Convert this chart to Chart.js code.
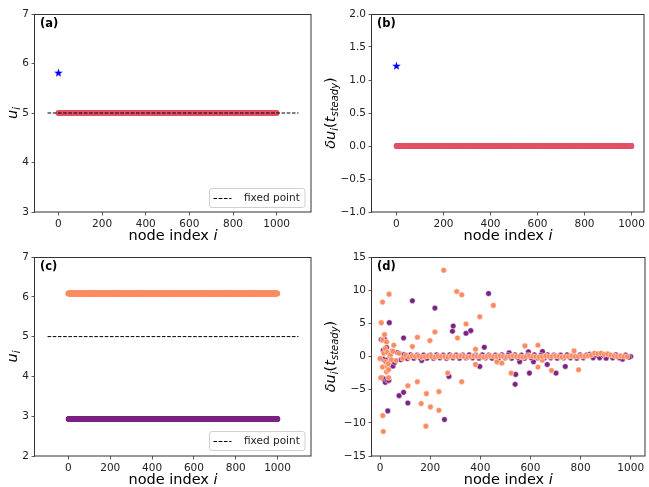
<!DOCTYPE html>
<html>
<head>
<meta charset="utf-8">
<script src="https://cdn.jsdelivr.net/npm/chart.js@4.4.0/dist/chart.umd.min.js"></script>
<style>
  html, body { margin: 0; padding: 0; background: #fff; }
  #fig { position: relative; width: 649px; height: 487px; overflow: hidden; }
  #fig canvas { position: absolute; left: 0; top: 0; }
</style>
</head>
<body>
<div id="fig">
  <canvas id="panelA" width="649" height="487"></canvas>
  <canvas id="panelB" width="649" height="487"></canvas>
  <canvas id="panelC" width="649" height="487"></canvas>
  <canvas id="panelD" width="649" height="487"></canvas>
</div>
<script>
const W = 649, H = 487;
const FONT = 'DejaVu Sans';

// tick positions
const xTicks = [0, 200, 400, 600, 800, 1000];
const uTicksA = [3, 4, 5, 6, 7];
const deltaTicksB = [-1, -0.5, 0, 0.5, 1, 1.5, 2];
const uTicksC = [2, 3, 4, 5, 6, 7];
const deltaTicksD = [-15, -10, -5, 0, 5, 10, 15];

// node indices of the ring
const nodeIndex = Array.from({ length: 1000 }, (_, i) => i);

// (a)/(b): one perturbed node, everything else on the fixed point
const fixedPoint = 5;
const perturbedA = [{ x: 0, y: 5.82 }];
const perturbedB = [{ x: 0, y: 1.22 }];
const restLevelA = 5.0;
const restDeltaB = 0.0;

// (c): two-level steady state
const upperLevelC = 6.08;
const lowerLevelC = 2.93;

// extent of the dashed fixed-point line
const guideSpanA = [-50, 1100];
const guideSpanC = [-100, 1100];

// (d): deviations at steady state, [node, value]
const devUpperD = [
  [0, -0.3], [3, -3.2], [5, 5.1], [10, 8.2], [10, -1.6], [10, 2.5], [11, -8.9], [13, -11.3],
  [15, 0.5], [18, 3.3], [20, 1.2], [22, -0.8], [26, 2.2], [26, -2.3], [28, -1.5], [30, 0.6],
  [33, -1.1], [34, -3.2], [34, -2.0], [36, 9.4], [39, 0], [42, 0.3], [45, -0.5], [48, 0.85],
  [55, 1.7], [111, -4.4], [129, 1.5], [149, 2.9], [149, -3.8], [164, -7.1], [183, -10.5],
  [185, -5.6], [199, 2.4], [201, -7.6], [219, 3.7], [235, -5.3], [235, -8.1], [254, 13.0],
  [270, -2.5], [306, 9.8], [309, 2.8], [326, 9.3], [326, -3.8], [343, 4.9], [381, 1.1],
  [381, -1.2], [398, 6.0], [452, 7.7], [466, -0.8], [486, -1.0], [523, -2.5], [578, 1.6],
  [630, 1.7], [630, -1.6], [647, -0.55], [684, -2.1], [774, 0.85], [792, -2.0]
];
const devLowerD = [
  [5, 2.55], [8, -3.2], [13, 0.95], [13, -0.4], [16, -3.4], [18, 2.6], [21, -3.9], [23, -0.55],
  [26, 1.35], [29, -3.6], [31, -8.2], [35, -3.6], [37, 5.1], [42, -1.45], [52, -1.45],
  [76, -5.9], [94, 2.8], [94, -5.4], [111, -7.0], [129, 8.4], [166, -0.6], [219, 7.3],
  [257, -9.5], [275, -3.0], [289, 3.8], [292, 4.6], [343, 3.5], [362, 3.9], [398, -1.5],
  [416, 1.4], [433, 9.5], [470, -0.8], [515, 0.55], [539, -4.2], [541, -2.7], [557, -0.8],
  [592, 0.7], [596, -2.5], [612, -0.8], [648, 0.75], [667, -1.2], [702, -2.5], [739, -1.5],
  [967, -0.4], [1000, 0]
];
const bandUpperD = [
  [52, 0.8], [64, -0.6], [76, 0.5], [90, -0.3], [103, 0.2], [116, -0.1], [128, 0.1], [141, 0],
  [154, 0.1], [167, -0.1], [180, 0], [193, 0.1], [206, 0], [219, -0.1], [232, 0.1], [245, 0],
  [258, 0], [271, -0.1], [284, 0.1], [297, 0], [310, 0], [323, 0.1], [336, 0], [349, -0.1],
  [362, 0], [375, 0.1], [388, 0], [401, 0], [414, -0.1], [427, 0], [440, 0.1], [453, 0],
  [466, 0], [479, 0.1], [492, 0], [505, -0.1], [518, 0], [531, 0.1], [544, 0], [557, 0],
  [570, -0.1], [583, 0], [596, 0.1], [609, 0], [622, 0], [635, -0.1], [648, 0], [661, 0.1],
  [674, 0], [687, 0], [700, 0.1], [713, 0], [726, -0.1], [739, 0], [752, 0], [765, 0.1],
  [778, 0], [791, 0], [804, 0.1], [817, 0], [830, 0.1], [843, 0.2], [856, 0.5], [869, 0.4],
  [882, 0.5], [895, 0.3], [908, 0.4], [921, 0.2], [934, 0.1], [947, 0], [960, 0.1], [973, 0],
  [986, 0]
];
const bandLowerD = [
  [58, -0.9], [70, 0.6], [83, -0.5], [96, 0.3], [109, -0.3], [122, 0.25], [135, -0.25], [148, 0.2],
  [161, -0.25], [174, 0.2], [187, -0.25], [200, 0.2], [213, -0.25], [226, 0.25], [239, -0.2], [252, 0.2],
  [265, -0.25], [278, 0.25], [291, -0.2], [304, 0.2], [317, -0.25], [330, 0.2], [343, -0.2], [356, 0.25],
  [369, -0.2], [382, 0.2], [395, -0.25], [408, 0.25], [421, -0.2], [434, 0.2], [447, -0.25], [460, 0.2],
  [473, -0.2], [486, 0.25], [499, -0.2], [512, 0.2], [525, -0.25], [538, 0.25], [551, -0.2], [564, 0.2],
  [577, -0.25], [590, 0.2], [603, -0.2], [616, 0.25], [629, -0.2], [642, 0.2], [655, -0.25], [668, 0.25],
  [681, -0.2], [694, 0.2], [707, -0.25], [720, 0.2], [733, -0.2], [746, 0.25], [759, -0.2], [772, 0.2],
  [785, -0.25], [798, 0.25], [811, -0.2], [824, 0.2], [837, 0.35], [850, -0.2], [863, 0.2], [876, -0.2],
  [889, 0.2], [902, -0.25], [915, 0.2], [928, -0.2], [941, 0.25], [954, -0.2], [980, 0.2], [993, -0.1]
];

const RED = '#e35166';
const ORANGE = '#fc8b62';
const PURPLE = '#7b2382';

const toPts = arr => arr.map(([x, y]) => ({ x, y }));
const minus = s => String(s).replace('-', '\u2212');

function starImage(size, color) {
  const c = document.createElement('canvas');
  c.width = c.height = size;
  const g = c.getContext('2d');
  const r1 = size / 2, r0 = r1 * 0.4;
  g.beginPath();
  for (let k = 0; k < 10; k++) {
    const r = k % 2 ? r0 : r1;
    const a = -Math.PI / 2 + k * Math.PI / 5;
    g.lineTo(size / 2 + r * Math.cos(a), size / 2 + r * Math.sin(a) + 0.6);
  }
  g.closePath();
  g.fillStyle = color;
  g.fill();
  return c;
}
const star = starImage(9, '#0000ff');

// sparse scatter with white marker edges
function scatterSet(points, color) {
  return {
    data: points,
    backgroundColor: color,
    borderColor: 'rgba(255,255,255,0.85)',
    borderWidth: 0.5,
    pointRadius: 2.8
  };
}
// dense rows of nodes: edges would wash the colour out
function rowSet(points, color) {
  return {
    data: points,
    backgroundColor: color,
    borderWidth: 0,
    pointRadius: 3
  };
}
function guideSet(span) {
  return {
    type: 'line',
    data: [{ x: span[0], y: fixedPoint }, { x: span[1], y: fixedPoint }],
    borderColor: '#000',
    borderWidth: 1,
    borderDash: [3.6, 1.6],
    pointRadius: 0,
    showLine: true
  };
}

// text pieces: n = upright, i = italic, sub = subscript
const xTitle = [{ t: 'node index ', s: 'n' }, { t: 'i', s: 'i' }];
const uTitle = [{ t: 'u', s: 'i' }, { t: 'i', s: 'i', sub: true }];
const deltaTitle = [
  { t: '\u03b4u', s: 'i' }, { t: 'i', s: 'i', sub: true }, { t: '(', s: 'n' },
  { t: 't', s: 'i' }, { t: 'steady', s: 'i', sub: true }, { t: ')', s: 'n' }
];

const decorations = {
  panelA: { tag: '(a)', ylabel: uTitle, yx: 16.5, xy: 240, legend: { x: 209.5, y: 188.5, w: 95.5, h: 19 } },
  panelB: { tag: '(b)', ylabel: deltaTitle, yx: 335, xy: 240 },
  panelC: { tag: '(c)', ylabel: uTitle, yx: 16.5, xy: 484, legend: { x: 209.5, y: 431.5, w: 95.5, h: 19 } },
  panelD: { tag: '(d)', ylabel: deltaTitle, yx: 335, xy: 484 }
};

function richText(ctx, parts, x, y, rotate) {
  const size = 14.5, subSize = 10;
  ctx.save();
  ctx.translate(x, y);
  if (rotate) ctx.rotate(-Math.PI / 2);
  ctx.textBaseline = 'alphabetic';
  ctx.fillStyle = '#000';
  const fontOf = p => (p.s === 'i' ? 'italic ' : '') + (p.sub ? subSize : size) + 'px "' + FONT + '"';
  let total = 0;
  parts.forEach(p => { ctx.font = fontOf(p); p.w = ctx.measureText(p.t).width; total += p.w; });
  let cx = -total / 2;
  parts.forEach(p => {
    ctx.font = fontOf(p);
    ctx.fillText(p.t, cx, p.sub ? 3 : 0);
    cx += p.w;
  });
  ctx.restore();
}

const decor = {
  id: 'decor',
  afterDraw(chart) {
    const d = decorations[chart.canvas.id];
    const a = chart.chartArea;
    const ctx = chart.ctx;
    ctx.save();
    // frame
    ctx.strokeStyle = '#333';
    ctx.lineWidth = 1;
    ctx.strokeRect(Math.round(a.left) - 0.5, Math.round(a.top) + 0.5,
      Math.round(a.right - a.left) + 0.5, Math.round(a.bottom - a.top) - 0.5);
    // panel tag
    ctx.font = 'bold 11.5px "' + FONT + '"';
    ctx.fillStyle = '#000';
    ctx.textBaseline = 'middle';
    ctx.fillText(d.tag, a.left + 5, a.top + 10.5);
    // legend
    if (d.legend) {
      const L = d.legend;
      ctx.beginPath();
      ctx.roundRect(L.x, L.y, L.w, L.h, 2.5);
      ctx.fillStyle = 'rgba(255,255,255,0.8)';
      ctx.fill();
      ctx.strokeStyle = '#d0d0d0';
      ctx.stroke();
      const my = Math.round(L.y + L.h / 2) + 0.5;
      ctx.beginPath();
      ctx.setLineDash([3.6, 1.6]);
      ctx.strokeStyle = '#000';
      ctx.moveTo(L.x + 4, my);
      ctx.lineTo(L.x + 22, my);
      ctx.stroke();
      ctx.setLineDash([]);
      ctx.font = '10.5px "' + FONT + '"';
      ctx.fillStyle = '#222';
      ctx.fillText('fixed point', L.x + 34.5, my);
    }
    ctx.restore();
    richText(ctx, xTitle, (a.left + a.right) / 2, d.xy, false);
    richText(ctx, d.ylabel, d.yx, (a.top + a.bottom) / 2, true);
  }
};

function panel(id, box, xRange, yTicks, yFmt, datasets) {
  return new Chart(document.getElementById(id), {
    type: 'scatter',
    data: { datasets },
    options: {
      responsive: false,
      animation: false,
      events: [],
      layout: { padding: { left: 0, top: box.top, right: W - box.right, bottom: 0 } },
      plugins: { legend: { display: false }, tooltip: { enabled: false } },
      scales: {
        x: {
          type: 'linear',
          min: xRange[0],
          max: xRange[1],
          afterBuildTicks: s => { s.ticks = xTicks.map(v => ({ value: v })); },
          afterFit: s => { s.height = H - box.bottom; },
          border: { display: false },
          grid: { drawOnChartArea: false, drawTicks: true, tickLength: 3.5, color: '#333', lineWidth: 0.8 },
          ticks: {
            autoSkip: false, maxRotation: 0, padding: 2.5, color: '#222',
            font: { family: FONT, size: 10.5 },
            callback: v => String(v)
          }
        },
        y: {
          type: 'linear',
          min: yTicks[0],
          max: yTicks[yTicks.length - 1],
          afterBuildTicks: s => { s.ticks = yTicks.map(v => ({ value: v })); },
          afterFit: s => { s.width = box.left; },
          border: { display: false },
          grid: { drawOnChartArea: false, drawTicks: true, tickLength: 3.5, color: '#333', lineWidth: 0.8 },
          ticks: {
            autoSkip: false, padding: 2.5, color: '#222',
            font: { family: FONT, size: 10.5 },
            callback: yFmt
          }
        }
      }
    },
    plugins: [decor]
  });
}

const intFmt = v => minus(v);
const oneDecFmt = v => minus(v.toFixed(1));

const starSet = pts => ({ data: pts, pointStyle: star, pointRadius: 5, backgroundColor: '#0000ff', borderWidth: 0 });

panel('panelA', { left: 35, right: 311, top: 14, bottom: 212 }, [-107.5, 1157.5], uTicksA, intFmt, [
  guideSet(guideSpanA),
  starSet(perturbedA),
  rowSet(nodeIndex.slice(1).map(i => ({ x: i, y: restLevelA })), RED)
]);

panel('panelB', { left: 372, right: 648, top: 14, bottom: 212 }, [-104, 1053], deltaTicksB, oneDecFmt, [
  starSet(perturbedB),
  rowSet(nodeIndex.slice(1).map(i => ({ x: i, y: restDeltaB })), RED)
]);

panel('panelC', { left: 35, right: 311, top: 257, bottom: 456 }, [-160, 1160], uTicksC, intFmt, [
  guideSet(guideSpanC),
  rowSet(nodeIndex.filter(i => i % 2 === 0).map(i => ({ x: i, y: upperLevelC })), ORANGE),
  rowSet(nodeIndex.filter(i => i % 2 === 1).map(i => ({ x: i, y: lowerLevelC })), PURPLE)
]);

panel('panelD', { left: 372, right: 648, top: 257, bottom: 456 }, [-32, 1055], deltaTicksD, intFmt, [
  scatterSet(toPts(devUpperD.concat(bandUpperD)), ORANGE),
  scatterSet(toPts(devLowerD.concat(bandLowerD)), PURPLE)
]);
</script>
</body>
</html>
